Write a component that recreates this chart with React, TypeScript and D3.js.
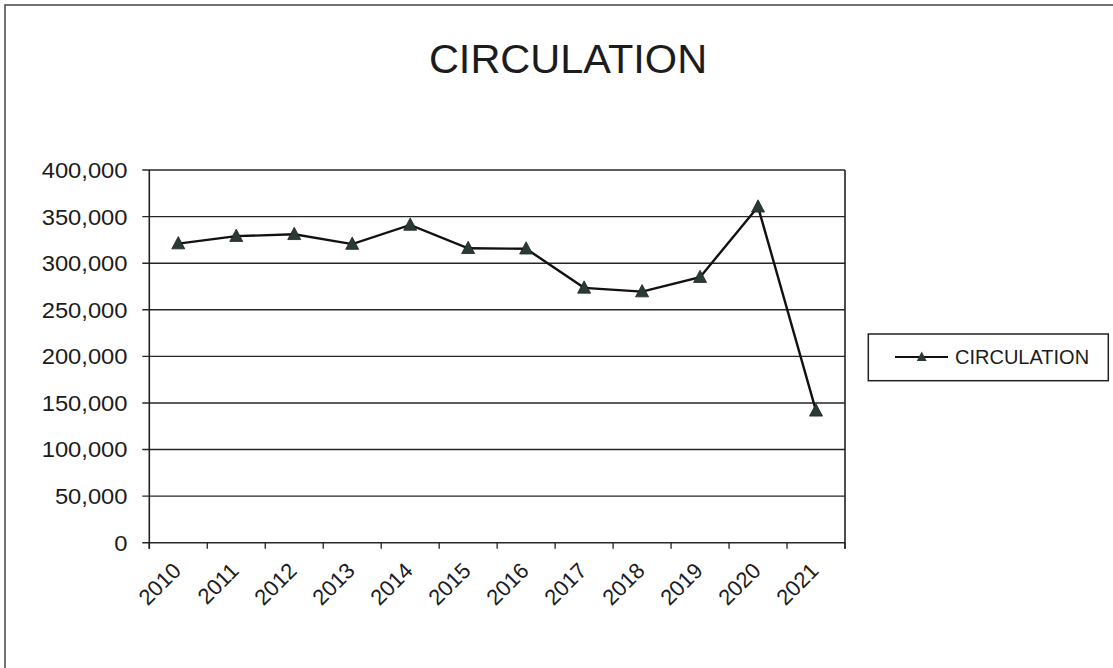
import React from "react";
import * as d3 from "d3";

const years = ["2010","2011","2012","2013","2014","2015","2016","2017","2018","2019","2020","2021"];
const circulation = [321000, 329000, 331000, 320500, 341000, 316000, 315500, 273500, 269500, 285000, 360500, 141500];
const yTicks = [0, 50000, 100000, 150000, 200000, 250000, 300000, 350000, 400000];
const seriesName = "CIRCULATION";
const title = "CIRCULATION";

const W = 1113, H = 668;
const plot = { left: 149.3, right: 845, top: 170, bottom: 542.7 };
const FONT = "'Liberation Sans', Arial, sans-serif";
const INK = "#1c1c1c";

function tri(cx: number, cy: number, s: number) {
  const h = s * 0.9;
  return `M${cx},${cy - h * 0.6}L${cx + s / 2},${cy + h * 0.45}L${cx - s / 2},${cy + h * 0.45}Z`;
}

export default function App() {
  const x = d3.scaleBand<string>().domain(years).range([plot.left, plot.right]).padding(0);
  const y = d3.scaleLinear().domain([0, 400000]).range([plot.bottom, plot.top]);
  const cx = (d: string) => (x(d) as number) + x.bandwidth() / 2;
  const fmt = d3.format(",");
  const line = d3.line<number>().x((_, i) => cx(years[i])).y(v => y(v));
  const boundaries = years.map(d => x(d) as number).concat([plot.right]);

  return (
    <svg width={W} height={H} style={{ position: "absolute", left: 0, top: 0, background: "#fff" }} fontFamily={FONT}>
      <rect x={0} y={0} width={W} height={H} fill="#fff" />
      <path d={`M5,${H + 5}V5H${W + 5}`} fill="none" stroke="#444" strokeWidth={1.5} />
      <text x={568} y={73} textAnchor="middle" fontSize={41.5} fill={INK}>{title}</text>

      {yTicks.map(t => (
        <g key={t}>
          <line x1={plot.left - 7} x2={plot.right} y1={y(t)} y2={y(t)} stroke="#262626" strokeWidth={1.4} />
          <text x={127.5} y={y(t)} dy="0.36em" textAnchor="end" fontSize={22} fill={INK}
            transform={`translate(127.5,0) scale(1.08,1) translate(-127.5,0)`}>{fmt(t)}</text>
        </g>
      ))}
      <line x1={plot.left} x2={plot.left} y1={plot.top} y2={plot.bottom + 6} stroke="#222" strokeWidth={1.6} />
      <line x1={plot.right} x2={plot.right} y1={plot.top} y2={plot.bottom + 6} stroke="#222" strokeWidth={1.6} />
      {boundaries.map((b, i) => (
        <line key={i} x1={b} x2={b} y1={plot.bottom} y2={plot.bottom + 6} stroke="#222" strokeWidth={1.3} />
      ))}
      {years.map(d => (
        <text key={d} transform={`translate(${cx(d) + 4},${572}) rotate(-45)`} textAnchor="end" fontSize={22} fill={INK}>{d}</text>
      ))}

      <path d={line(circulation) || ""} fill="none" stroke="#111" strokeWidth={2.4} />
      {circulation.map((v, i) => (
        <path key={i} d={tri(cx(years[i]), y(v), 13)} fill="#2b3a36" stroke="#1a2420" strokeWidth={0.8} />
      ))}

      <rect x={868.3} y={334} width={240} height={46.7} fill="#fff" stroke="#222" strokeWidth={1.5} />
      <line x1={895} x2={948} y1={357} y2={357} stroke="#111" strokeWidth={2} />
      <path d={tri(921.7, 357, 10)} fill="#2b3a36" />
      <text x={955} y={364} fontSize={20} fill={INK}>{seriesName}</text>
    </svg>
  );
}
